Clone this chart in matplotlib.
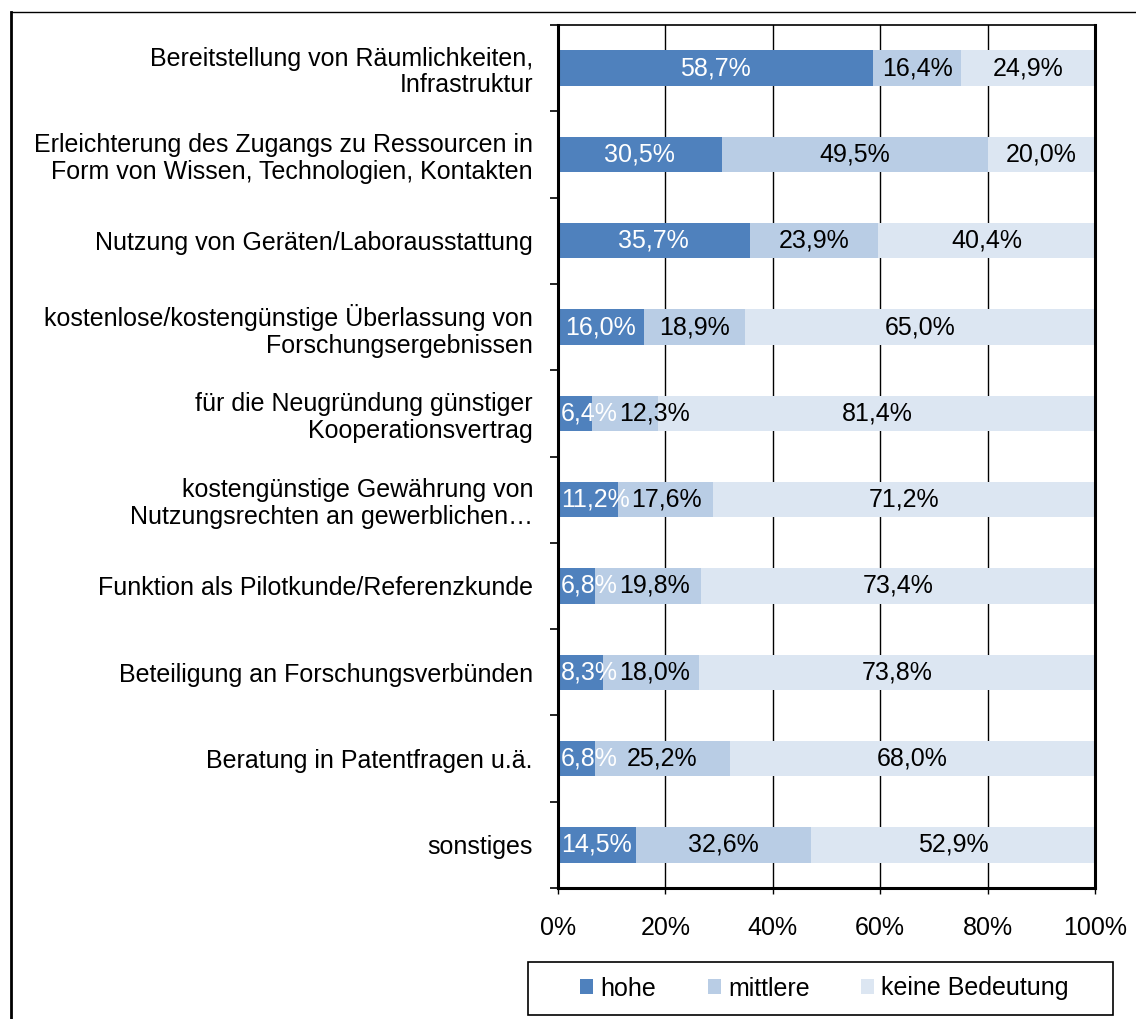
import numpy as np
import matplotlib
matplotlib.use('Agg')
import matplotlib.pyplot as plt
from matplotlib.lines import Line2D
from matplotlib.patches import Rectangle

plt.rcParams['font.family'] = ['Liberation Sans', 'DejaVu Sans']
plt.rcParams['font.size'] = 18

categories = [
    'Bereitstellung von Räumlichkeiten,\nInfrastruktur',
    'Erleichterung des Zugangs zu Ressourcen in\nForm von Wissen, Technologien, Kontakten',
    'Nutzung von Geräten/Laborausstattung',
    'kostenlose/kostengünstige Überlassung von\nForschungsergebnissen',
    'für die Neugründung günstiger\nKooperationsvertrag',
    'kostengünstige Gewährung von\nNutzungsrechten an gewerblichen…',
    'Funktion als Pilotkunde/Referenzkunde',
    'Beteiligung an Forschungsverbünden',
    'Beratung in Patentfragen u.ä.',
    'sonstiges',
]
hohe = [58.7, 30.5, 35.7, 16.0, 6.4, 11.2, 6.8, 8.3, 6.8, 14.5]
mittlere = [16.4, 49.5, 23.9, 18.9, 12.3, 17.6, 19.8, 18.0, 25.2, 32.6]
keine = [24.9, 20.0, 40.4, 65.0, 81.4, 71.2, 73.4, 73.8, 68.0, 52.9]
series_names = ['hohe', 'mittlere', 'keine Bedeutung']
colors = ['#4F81BD', '#B9CDE5', '#DCE6F2']
text_colors = ['white', 'black', 'black']
x_ticks = [0, 20, 40, 60, 80, 100]

W, H = 1136, 1019
fig = plt.figure(figsize=(W / 100, H / 100), dpi=100)
ax = fig.add_axes([558 / W, 1 - 888 / H, 537 / W, 863 / H])

y = np.arange(len(categories))
left = np.zeros(len(categories))
labels = []
for k, (vals, name, col, tcol) in enumerate(zip([hohe, mittlere, keine], series_names, colors, text_colors)):
    vals = np.array(vals)
    ax.barh(y, vals, left=left, height=0.41, color=col, label=name, zorder=2)
    row = []
    for yi, l, v in zip(y, left, vals):
        s = f'{v:.1f}%'.replace('.', ',')
        if k == 0 and v < 12:
            # narrow first segment: label starts just inside the axis, like Excel does
            t = ax.text(0.6, yi, s, ha='left', va='center', color=tcol, zorder=3)
        else:
            t = ax.text(l + v / 2, yi, s, ha='center', va='center', color=tcol, zorder=3)
        row.append(t)
    labels.append(row)
    left += vals

ax.set_xlim(0, 100)
ax.set_ylim(len(categories) - 0.5, -0.5)
ax.set_xticks(x_ticks)
ax.set_xticklabels([f'{t}%' for t in x_ticks])
ax.set_yticks(y)
ax.set_yticklabels(categories, ha='right', linespacing=1.15)
ax.set_yticks(np.arange(-0.5, len(categories)), minor=True)
ax.tick_params(axis='y', which='major', length=0, pad=18)
ax.tick_params(axis='y', which='minor', length=6, width=1.2, direction='out')
ax.tick_params(axis='x', length=4, width=1, pad=16)
ax.xaxis.grid(True, color='black', linewidth=1.0, zorder=0)
ax.set_axisbelow(True)
for s in ax.spines.values():
    s.set_linewidth(1.2)
for side in ['left', 'bottom', 'right']:
    ax.spines[side].set_linewidth(2.2)

# push second labels right when they would run into the first
fig.canvas.draw()
r = fig.canvas.get_renderer()
inv = ax.transData.inverted()
for t1, t2 in zip(labels[0], labels[1]):
    b1 = t1.get_window_extent(r)
    b2 = t2.get_window_extent(r)
    if b2.x0 < b1.x1 + 1:
        x_new = inv.transform((b1.x1 + 1, 0))[0]
        t2.set_x(x_new)
        t2.set_ha('left')

leg = fig.legend(loc='center left', bbox_to_anchor=(580 / W, 1 - 988.5 / H), ncol=3,
                 frameon=False, handlelength=0.52, handleheight=0.52,
                 handletextpad=0.3, columnspacing=2.05, borderpad=0, borderaxespad=0)
fig.add_artist(Rectangle((528 / W, 1 - 1015 / H), 585 / W, 53 / H, fill=False,
                         edgecolor='black', lw=1.2, transform=fig.transFigure))

# outer frame
fig.add_artist(Line2D([11 / W, 1.0], [1 - 12 / H] * 2, color='black', lw=1.0,
                      transform=fig.transFigure))
fig.add_artist(Line2D([11 / W] * 2, [0, 1 - 12 / H], color='black', lw=2.0,
                      transform=fig.transFigure))

fig.savefig('out.png', dpi=100)
